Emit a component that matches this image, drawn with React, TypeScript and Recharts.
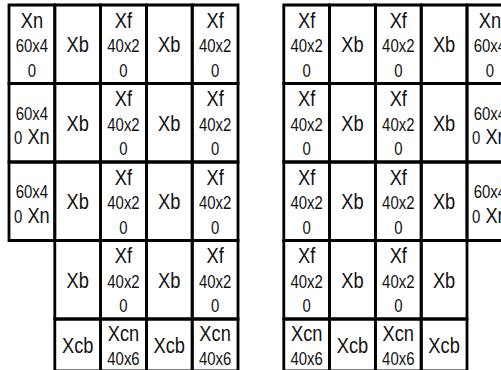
import { ReferenceArea, Scatter, ScatterChart, XAxis, YAxis } from 'recharts';

// cell labels, one row per array, for the two panels of the layout
const leftPanel = [
  ['Xn 60x40', 'Xb', 'Xf 40x20', 'Xb', 'Xf 40x20'],
  ['60x40 Xn', 'Xb', 'Xf 40x20', 'Xb', 'Xf 40x20'],
  ['60x40 Xn', 'Xb', 'Xf 40x20', 'Xb', 'Xf 40x20'],
  ['', 'Xb', 'Xf 40x20', 'Xb', 'Xf 40x20'],
  ['', 'Xcb', 'Xcn 40x6', 'Xcb', 'Xcn 40x6'],
];

const rightPanel = [
  ['Xf 40x20', 'Xb', 'Xf 40x20', 'Xb', 'Xn 60x40'],
  ['Xf 40x20', 'Xb', 'Xf 40x20', 'Xb', '60x40 Xn'],
  ['Xf 40x20', 'Xb', 'Xf 40x20', 'Xb', '60x40 Xn'],
  ['Xf 40x20', 'Xb', 'Xf 40x20', 'Xb', ''],
  ['Xcn 40x6', 'Xcb', 'Xcn 40x6', 'Xcb', ''],
];

const panelStartCol = [0, 6];
// row edges in row units (last row is shorter, two lines of text)
const rowEdges = [0, 1, 2, 3, 4, 4.66];

const cells: { x: number; y: number; col: number; row: number; label: string }[] = [];
[leftPanel, rightPanel].forEach((panel, p) => {
  panel.forEach((rowCells, row) => {
    rowCells.forEach((label, i) => {
      if (!label) return;
      const col = panelStartCol[p] + i;
      cells.push({ x: col + 0.5, y: (rowEdges[row] + rowEdges[row + 1]) / 2, col, row, label });
    });
  });
});

const FONT = '"Liberation Sans", Arial, sans-serif';
const BIG = 22;
const SMALL = 18;
const NARROW = 0.83;

type Piece = { t: string; big: boolean };

// the label wraps inside the narrow cell: sizes break after 4 characters
function layout(label: string): Piece[][] {
  const chunks: Piece[] = [];
  label.split(' ').forEach((w) => {
    if (w.startsWith('X')) chunks.push({ t: w, big: true });
    else {
      chunks.push({ t: w.slice(0, 4), big: false });
      if (w.length > 4) chunks.push({ t: w.slice(4), big: false });
    }
  });
  const widthOf = (p: Piece) => p.t.length * (p.big ? 11 : 8);
  const lines: Piece[][] = [];
  let cur: Piece[] = [];
  let curW = 0;
  chunks.forEach((c, i) => {
    const midWord = i > 0 && !c.big && !chunks[i - 1].big && chunks[i - 1].t.length === 4;
    const w = widthOf(c);
    if (cur.length && (midWord || curW + 4 + w > 42)) {
      lines.push(cur);
      cur = [];
      curW = 0;
    }
    cur.push(cur.length ? { ...c, t: ' ' + c.t } : c);
    curW += w + (cur.length > 1 ? 4 : 0);
  });
  if (cur.length) lines.push(cur);
  return lines;
}

function CellLabel(props: any) {
  const { cx, cy, payload } = props;
  const lines = layout(payload.label);
  const n = lines.length;
  const shift = n === 2 && !lines[0][0].big ? 1.5 : 0;
  return (
    <g transform={`translate(${cx} 0) scale(${NARROW} 1) translate(${-cx} 0)`}>
      {lines.map((line, i) => (
        <text
          key={i}
          x={cx}
          y={cy + 8 + shift + 24.5 * (i - (n - 1) / 2)}
          textAnchor="middle"
          fill="#111"
          fontFamily={FONT}
        >
          {line.map((p, j) => (
            <tspan key={j} fontSize={p.big ? BIG : SMALL}>
              {p.t}
            </tspan>
          ))}
        </text>
      ))}
    </g>
  );
}

export default function App() {
  return (
    <div style={{ position: 'absolute', left: 0, top: 0, background: '#fff' }}>
      <ScatterChart width={501} height={370} margin={{ top: 0, right: 0, bottom: 0, left: 0 }}>
        <XAxis type="number" dataKey="x" domain={[-9 / 45.8, 492 / 45.8]} allowDataOverflow hide />
        <YAxis type="number" dataKey="y" domain={[-5 / 78.5, 365 / 78.5]} allowDataOverflow reversed hide />
        {cells.map((c, i) => (
          <ReferenceArea
            key={i}
            x1={c.col}
            x2={c.col + 1}
            y1={rowEdges[c.row]}
            y2={rowEdges[c.row + 1]}
            fill="none"
            fillOpacity={0}
            stroke="#000"
            strokeWidth={2.8}
            ifOverflow="hidden"
          />
        ))}
        <Scatter data={cells} shape={CellLabel} isAnimationActive={false} />
      </ScatterChart>
    </div>
  );
}
